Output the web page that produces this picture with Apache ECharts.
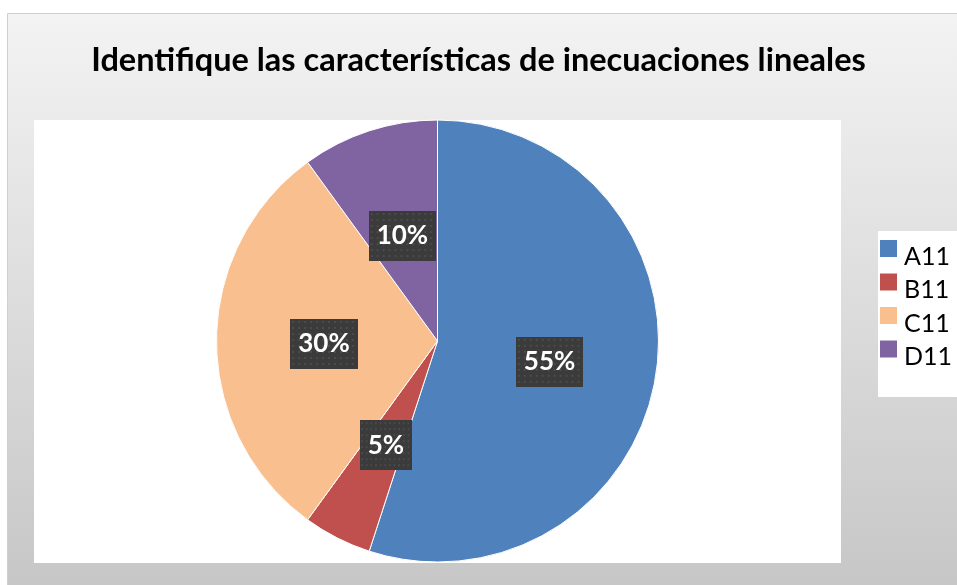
<!DOCTYPE html>
<html><head><meta charset="utf-8">
<script src="https://cdn.jsdelivr.net/npm/echarts@6/dist/echarts.min.js"></script>
<style>html,body{margin:0;padding:0;background:#fff}#c{width:957px;height:585px}</style>
</head><body><div id="c"></div>
<script>
const categories = ['A11', 'B11', 'C11', 'D11'];
const values = [55, 5, 30, 10];
const colors = ['#4f81bd', '#c0504d', '#f9bf8f', '#8064a2'];
const titleText = 'Identifique las características de inecuaciones lineales';

// dotted dark pattern for the data label boxes
const pat = document.createElement('canvas');
pat.width = 68; pat.height = 50;
const pc = pat.getContext('2d');
pc.fillStyle = '#3b3b3b'; pc.fillRect(0, 0, 68, 50);
pc.fillStyle = '#4c4c4c';
for (let y = 2; y < 50; y += 6) for (let x = 2; x < 68; x += 6) pc.fillRect(x, y, 2, 2);

const chart = echarts.init(document.getElementById('c'), null, {renderer: 'canvas'});
chart.setOption({
  animation: false,
  graphic: [
    {type: 'rect', shape: {x: 7.5, y: 13.5, width: 960, height: 580}, z: -10,
     style: {fill: new echarts.graphic.LinearGradient(0, 0, 0, 1, [{offset: 0, color: '#f3f3f3'}, {offset: 1, color: '#c6c6c6'}]), stroke: '#cfcfcf', lineWidth: 1}},
    {type: 'rect', shape: {x: 34, y: 120, width: 807, height: 443}, z: -9, style: {fill: '#ffffff'}},
    {type: 'rect', shape: {x: 878, y: 231, width: 90, height: 166}, z: -9, style: {fill: '#ffffff'}}
  ],
  title: {
    text: titleText, left: 'center', top: 39,
    textStyle: {fontFamily: 'Lato', fontWeight: 'bold', fontSize: 32.5, color: '#000'}
  },
  legend: {
    orient: 'vertical', left: 878, top: 228, padding: 0,
    itemWidth: 19, itemHeight: 19, itemGap: -7.5, icon: 'rect',
    data: categories,
    formatter: '{t|{name}}',
    textStyle: {
      fontFamily: 'Lato', fontSize: 25, color: '#000',
      rich: {t: {fontFamily: 'Lato', fontSize: 25, lineHeight: 25, color: '#000', padding: [16, 0, 0, 1]}}
    }
  },
  series: [{
    type: 'pie', center: [437.5, 341], radius: 221, startAngle: 90, clockwise: true,
    silent: true,
    itemStyle: {borderColor: '#ffffff', borderWidth: 1},
    label: {
      show: true, position: 'inside', offset: [0, 3],
      formatter: p => p.value + '%',
      fontFamily: 'Lato', fontWeight: 'bold', fontSize: 26, color: '#ffffff',
      backgroundColor: {image: pat}, padding: [18, 8, 6, 8], lineHeight: 26
    },
    labelLine: {show: false},
    data: categories.map((c, i) => ({name: c, value: values[i], itemStyle: {color: colors[i]}}))
  }]
});
</script></body></html>
